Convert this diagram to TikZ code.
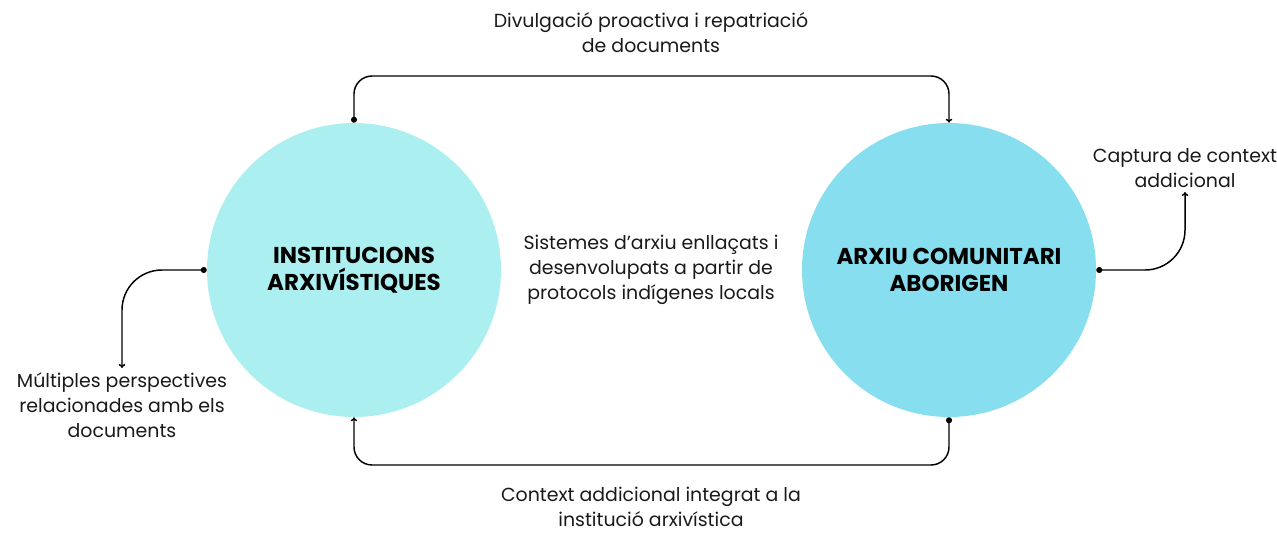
\documentclass[tikz,border=0pt]{standalone}
\usepackage{fontspec}
\setmainfont{Poppins}
\usetikzlibrary{arrows.meta,positioning}
\definecolor{instcol}{HTML}{ACEFF0}
\definecolor{arxcol}{HTML}{87DEEE}
\tikzset{
	bigcircle/.style={circle,minimum size=220.5pt,inner sep=0pt,font=\fontsize{17.2}{20.5}\selectfont\bfseries,align=center},
	lbl/.style={font=\fontsize{14.2}{18.8}\selectfont,align=center,text=black!90},
	conn/.style={line width=1.1pt,{Circle[length=4.5pt]}-{To[length=3pt,width=5pt]}}
}
\begin{document}
\begin{tikzpicture}[x=0.75pt,y=-0.75pt]
		\useasboundingbox (0,0) rectangle (1277,532);
		% circles
		\node[bigcircle,fill=instcol] (inst) at (354,270) {INSTITUCIONS\\ARXIVÍSTIQUES};
		\node[bigcircle,fill=arxcol] (arxiu) at (949,270) {ARXIU COMUNITARI\\ABORIGEN};
		% labels
		\node[lbl] (divulga) at (651,33) {Divulgació proactiva i repatriació\\de documents};
		\node[lbl] (sistemes) at (651,270) {Sistemes d’arxiu enllaçats i\\desenvolupats a partir de\\protocols indígenes locals};
		\node[lbl] (context) at (651,507) {Context addicional integrat a la\\institució arxivística};
		\node[lbl] (multiples) at (122,405) {Múltiples perspectives\\relacionades amb els\\documents};
		\node[lbl] (captura) at (1185,168) {Captura de context\\addicional};
		% connector ends
		\coordinate (top) at (651,76);
		\coordinate (bot) at (651,465);
		\coordinate (mend) at (122,368);
		\coordinate (cend) at (1185,192);
		% connectors
		\draw[conn,rounded corners=13.5pt] (inst.north) |- (top) -| (arxiu.north);
		\draw[conn,rounded corners=13.5pt] (arxiu.south) |- (bot) -| (inst.south);
		\draw[conn,rounded corners=30pt] (inst.west) -| (mend);
		\draw[conn,rounded corners=30pt] (arxiu.east) -| (cend);
\end{tikzpicture}
\end{document}
